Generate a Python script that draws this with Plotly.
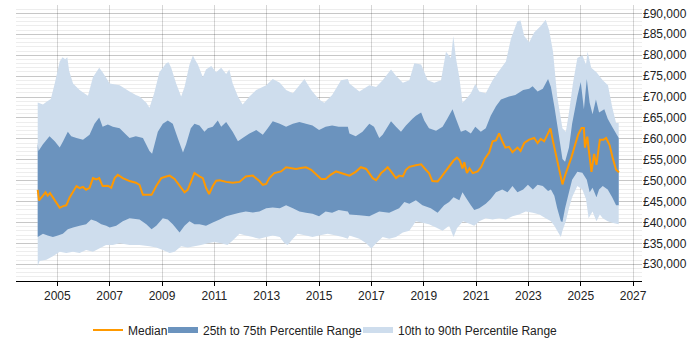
import plotly.graph_objects as go

# ---- data (decimal years, GBP) ----
p90_x = [2004.25, 2004.45, 2004.6, 2004.75, 2004.9, 2005.09, 2005.2, 2005.3, 2005.38, 2005.45, 2005.6, 2005.85,
         2006.0, 2006.17, 2006.36, 2006.6, 2006.73, 2007.0, 2007.38, 2007.76, 2008.0, 2008.14, 2008.4, 2008.52,
         2008.7, 2008.9, 2009.16, 2009.25, 2009.35, 2009.54, 2009.73, 2009.86, 2010.05, 2010.18, 2010.25, 2010.37,
         2010.56, 2010.68, 2010.88, 2011.07, 2011.26, 2011.45, 2011.57, 2011.7, 2011.9, 2012.08, 2012.34, 2012.6,
         2012.98, 2013.23, 2013.5, 2013.74, 2014.0, 2014.25, 2014.44, 2014.7, 2015.0, 2015.2, 2015.5, 2015.84,
         2016.1, 2016.16, 2016.54, 2016.92, 2017.18, 2017.43, 2017.75, 2017.94, 2018.2, 2018.45, 2018.64, 2018.9,
         2019.15, 2019.4, 2019.66, 2019.85, 2020.04, 2020.13, 2020.23, 2020.36, 2020.48, 2020.6, 2020.8, 2020.97,
         2021.12, 2021.37, 2021.63, 2021.88, 2022.14, 2022.33, 2022.58, 2022.7, 2022.84, 2023.03, 2023.22, 2023.47,
         2023.66, 2023.79, 2023.94, 2024.1, 2024.3, 2024.43, 2024.55, 2024.7, 2024.87, 2025.06, 2025.2, 2025.26,
         2025.4, 2025.6, 2025.84, 2026.04, 2026.2, 2026.35, 2026.45]
p90_y = [68700, 68200, 68900, 69500, 73200, 78500, 79500, 79000, 79500, 76300, 73200, 71700,
         71000, 70300, 74700, 77000, 75900, 73200, 72800, 71300, 70500, 70100, 68600, 67400,
         70900, 75900, 78100, 78300, 77000, 73200, 70100, 72400, 77800, 79900, 79000, 77800,
         74700, 76600, 77400, 75900, 77000, 75500, 76600, 73200, 70100, 68200, 70100, 71700,
         72800, 74300, 73400, 71700, 70900, 72800, 74300, 71700, 69400, 68600, 70500, 74000,
         74300, 73200, 71300, 72800, 72400, 74000, 76600, 75100, 73400, 74000, 78100, 77800,
         74000, 73400, 74000, 80800, 79300, 84600, 79300, 74700, 68600, 69400, 70900, 73100,
         71300, 70900, 74000, 76300, 78500, 83900, 88100, 88300, 84600, 83100, 85400, 87000,
         88500, 86000, 80800, 70100, 62500, 61700, 66300, 73200, 79300, 80000, 77800, 80800,
         77000, 75900, 74000, 72800, 67600, 63800, 63800]

p75_x = [2004.25, 2004.28, 2004.45, 2004.7, 2004.9, 2005.09, 2005.22, 2005.4, 2005.53, 2005.73, 2005.98, 2006.23,
         2006.42, 2006.6, 2006.73, 2006.93, 2007.12, 2007.38, 2007.63, 2007.76, 2008.0, 2008.27, 2008.52, 2008.62,
         2008.84, 2009.03, 2009.22, 2009.41, 2009.6, 2009.8, 2009.92, 2010.1, 2010.24, 2010.43, 2010.62, 2010.75,
         2010.94, 2011.13, 2011.26, 2011.45, 2011.7, 2011.9, 2012.08, 2012.34, 2012.6, 2012.85, 2013.04, 2013.23,
         2013.5, 2013.74, 2014.0, 2014.25, 2014.5, 2014.75, 2015.0, 2015.25, 2015.5, 2015.75, 2016.1, 2016.16,
         2016.4, 2016.66, 2016.92, 2017.1, 2017.3, 2017.43, 2017.62, 2017.75, 2017.94, 2018.13, 2018.32, 2018.57,
         2018.7, 2018.9, 2019.02, 2019.2, 2019.47, 2019.72, 2019.9, 2020.1, 2020.23, 2020.42, 2020.6, 2020.8,
         2020.97, 2021.18, 2021.37, 2021.56, 2021.76, 2021.95, 2022.26, 2022.5, 2022.8, 2023.03, 2023.16, 2023.35,
         2023.55, 2023.75, 2023.86, 2023.99, 2024.16, 2024.3, 2024.4, 2024.55, 2024.67, 2024.87, 2025.0, 2025.12,
         2025.23, 2025.34, 2025.45, 2025.58, 2025.7, 2025.9, 2026.03, 2026.2, 2026.45]
p75_y = [59000, 57100, 58700, 60600, 59400, 57900, 59400, 61700, 60600, 60200, 59800, 61000,
         63600, 65100, 62900, 63400, 62900, 62500, 61000, 60200, 60600, 60200, 57100, 56400,
         61700, 63600, 64400, 63600, 60200, 56700, 58700, 62500, 63600, 63200, 61700, 62500,
         62900, 64400, 62900, 64000, 61700, 59400, 60200, 61300, 62100, 61000, 62500, 64200,
         63600, 62900, 63600, 64000, 63600, 63200, 62100, 62900, 63200, 62900, 62900, 61300,
         60600, 61700, 63600, 62900, 60200, 61000, 62900, 64200, 62900, 61700, 63200, 64800,
         65500, 66300, 64400, 62500, 61900, 62900, 64800, 67100, 64800, 61700, 62100, 61300,
         62900, 61700, 62500, 65500, 67800, 69400, 70100, 70500, 71700, 72000, 72600, 71300,
         72000, 74300, 72400, 67800, 61000, 55200, 54500, 57900, 63600, 70100, 73600, 67100,
         74300, 68600, 65900, 69400, 66300, 67100, 64800, 62900, 60200]

p25_x = [2004.25, 2004.45, 2004.63, 2004.83, 2005.02, 2005.21, 2005.4, 2005.6, 2005.85, 2006.1, 2006.29, 2006.49,
         2006.68, 2006.87, 2007.0, 2007.25, 2007.5, 2007.76, 2008.14, 2008.4, 2008.6, 2008.78, 2009.03, 2009.22,
         2009.41, 2009.67, 2009.86, 2010.05, 2010.24, 2010.43, 2010.68, 2010.94, 2011.2, 2011.45, 2011.7, 2011.96,
         2012.2, 2012.47, 2012.72, 2012.98, 2013.23, 2013.5, 2013.74, 2014.0, 2014.25, 2014.5, 2014.75, 2015.0,
         2015.25, 2015.5, 2015.75, 2016.1, 2016.16, 2016.54, 2016.92, 2017.3, 2017.68, 2018.06, 2018.26, 2018.45,
         2018.7, 2018.95, 2019.27, 2019.53, 2019.78, 2019.97, 2020.14, 2020.36, 2020.48, 2020.6, 2020.8, 2020.93,
         2021.12, 2021.37, 2021.56, 2021.76, 2022.0, 2022.2, 2022.39, 2022.58, 2022.8, 2022.98, 2023.17, 2023.35,
         2023.55, 2023.75, 2023.86, 2023.99, 2024.1, 2024.24, 2024.3, 2024.4, 2024.55, 2024.67, 2024.87, 2025.06,
         2025.23, 2025.34, 2025.45, 2025.6, 2025.7, 2025.84, 2026.03, 2026.2, 2026.35, 2026.45]
p25_y = [36500, 37300, 36900, 36500, 36900, 37300, 38400, 38800, 39200, 39600, 40700, 40300,
         39600, 39200, 38800, 39200, 40300, 41000, 40700, 39600, 38400, 39200, 41000, 40700,
         39600, 37600, 39200, 40300, 39600, 39600, 39200, 40000, 40700, 41500, 41900, 42300,
         42600, 42400, 42600, 43400, 43600, 43400, 44100, 43400, 42600, 42300, 42100, 41500,
         42600, 42300, 43000, 42600, 41900, 41700, 41500, 42600, 42300, 43400, 44900, 44500,
         45300, 44100, 43400, 42300, 44100, 44900, 46000, 45300, 47200, 46000, 44100, 43000,
         43400, 44500, 45600, 47200, 47900, 47200, 48700, 47200, 47900, 49000, 47900, 49000,
         48700, 47500, 47900, 46400, 43400, 40300, 40100, 43400, 47200, 50200, 52100, 51900,
         50200, 47200, 48300, 46000, 47900, 48700, 47900, 46000, 44100, 44100]

p10_x = [2004.25, 2004.32, 2004.58, 2004.83, 2005.09, 2005.34, 2005.6, 2005.85, 2006.1, 2006.36, 2006.6, 2006.86,
         2007.12, 2007.38, 2007.76, 2008.14, 2008.52, 2008.78, 2009.03, 2009.29, 2009.48, 2009.73, 2009.98, 2010.24,
         2010.49, 2010.75, 2011.0, 2011.26, 2011.5, 2011.7, 2011.96, 2012.2, 2012.47, 2012.72, 2012.98, 2013.23,
         2013.5, 2013.68, 2013.8, 2014.0, 2014.18, 2014.5, 2014.75, 2015.0, 2015.33, 2015.65, 2015.9, 2016.1,
         2016.16, 2016.54, 2016.8, 2017.0, 2017.18, 2017.43, 2017.68, 2017.94, 2018.2, 2018.45, 2018.7, 2018.95,
         2019.2, 2019.47, 2019.72, 2019.97, 2020.14, 2020.27, 2020.5, 2020.8, 2020.93, 2021.12, 2021.37, 2021.63,
         2021.88, 2022.14, 2022.39, 2022.64, 2022.9, 2023.17, 2023.42, 2023.66, 2023.86, 2023.99, 2024.1, 2024.24,
         2024.3, 2024.43, 2024.55, 2024.67, 2024.87, 2025.06, 2025.2, 2025.3, 2025.45, 2025.6, 2025.73, 2025.84,
         2026.03, 2026.2, 2026.45]
p10_y = [29600, 30800, 31100, 31900, 33000, 32700, 33000, 32700, 33400, 33000, 33800, 34600,
         34600, 35000, 34600, 34600, 34300, 34000, 33400, 32700, 33000, 34300, 34000, 34300,
         34600, 35000, 35300, 35000, 34600, 35700, 37300, 36900, 36500, 36100, 36500, 36900,
         36500, 35000, 34600, 36100, 37300, 36900, 36500, 36900, 37300, 36900, 36500, 36100,
         36900, 36100, 35000, 33800, 35000, 36500, 36100, 36500, 37600, 38000, 40300, 39900,
         39600, 38800, 38000, 39200, 36500, 38600, 40300, 39600, 39200, 40300, 41000, 40700,
         41000, 40700, 41500, 41900, 42600, 42300, 41900, 41000, 40300, 39200, 38000, 36500,
         38000, 40300, 43400, 46000, 48700, 47900, 45600, 41000, 42600, 40300, 41900, 41000,
         40300, 39900, 39600]

median_x = [2004.25, 2004.3, 2004.45, 2004.55, 2004.63, 2004.72, 2004.83, 2004.96, 2005.09, 2005.22, 2005.34, 2005.47,
            2005.6, 2005.73, 2005.85, 2005.98, 2006.1, 2006.23, 2006.36, 2006.49, 2006.6, 2006.73, 2006.93, 2007.06,
            2007.19, 2007.31, 2007.5, 2007.76, 2008.0, 2008.14, 2008.27, 2008.6, 2008.78, 2008.97, 2009.16, 2009.29,
            2009.48, 2009.67, 2009.86, 2009.98, 2010.1, 2010.24, 2010.43, 2010.56, 2010.68, 2010.8, 2010.94, 2011.07,
            2011.2, 2011.45, 2011.7, 2011.96, 2012.2, 2012.47, 2012.72, 2012.85, 2012.98, 2013.1, 2013.29, 2013.55,
            2013.74, 2013.93, 2014.12, 2014.3, 2014.5, 2014.7, 2014.89, 2015.08, 2015.25, 2015.44, 2015.65, 2015.9,
            2016.1, 2016.16, 2016.4, 2016.6, 2016.8, 2016.92, 2017.05, 2017.18, 2017.37, 2017.5, 2017.62, 2017.75,
            2017.94, 2018.06, 2018.2, 2018.32, 2018.45, 2018.7, 2018.9, 2019.08, 2019.2, 2019.33, 2019.53, 2019.66,
            2019.85, 2020.04, 2020.14, 2020.27, 2020.38, 2020.48, 2020.55, 2020.65, 2020.75, 2020.87, 2021.06, 2021.2,
            2021.33, 2021.5, 2021.63, 2021.76, 2021.88, 2021.99, 2022.12, 2022.26, 2022.39, 2022.58, 2022.7, 2022.84,
            2023.03, 2023.22, 2023.35, 2023.47, 2023.6, 2023.75, 2023.84, 2023.94, 2024.07, 2024.2, 2024.3, 2024.41,
            2024.54, 2024.64, 2024.77, 2024.9, 2025.03, 2025.12, 2025.16, 2025.25, 2025.31, 2025.41, 2025.51, 2025.6,
            2025.73, 2025.87, 2025.97, 2026.1, 2026.23, 2026.35, 2026.46]
median_y = [47800, 45300, 46400, 47200, 46400, 47000, 46000, 44900, 43500, 43900, 44100, 46000,
            47300, 48700, 48200, 48500, 47800, 48300, 50600, 50300, 50600, 48700, 48800, 48300,
            50600, 51400, 50600, 49900, 49500, 49000, 46600, 46600, 48700, 50600, 51000, 51200,
            50400, 48700, 47200, 47800, 49600, 51800, 51000, 50600, 48300, 46800, 48700, 50000,
            50100, 49700, 49500, 49700, 51000, 51200, 49900, 49000, 49200, 50600, 51800, 52200,
            53200, 53000, 52800, 53000, 53200, 52600, 51400, 50400, 50400, 51400, 52200, 51800,
            51400, 51200, 52100, 53200, 52800, 51800, 50600, 50100, 51800, 52500, 53200, 52200,
            50600, 51200, 51000, 52600, 53300, 53700, 53900, 52600, 51800, 49900, 49800, 50800,
            52500, 53900, 54800, 55500, 54800, 52900, 54400, 51800, 52900, 51800, 52200, 53300,
            55200, 56700, 59400, 59600, 61300, 59600, 57900, 58100, 56800, 57900, 57100, 59000,
            59800, 60200, 59000, 60000, 59400, 61300, 62500, 59400, 55500, 51800, 49100, 51400,
            53600, 55500, 58300, 61000, 62600, 62600, 57900, 60500, 57100, 52100, 56400, 53800,
            59800, 59800, 60200, 58500, 55200, 52600, 52000]

x_ticks = [2005, 2007, 2009, 2011, 2013, 2015, 2017, 2019, 2021, 2023, 2025, 2027]
y_ticks = [30000, 35000, 40000, 45000, 50000, 55000, 60000, 65000, 70000, 75000, 80000, 85000, 90000]
y_tick_labels = ["£{:,}".format(v) for v in y_ticks]

LIGHT = "rgb(206,221,237)"
DARK = "rgb(107,147,190)"
ORANGE = "rgb(255,153,0)"

fig = go.Figure()

fig.add_trace(go.Scatter(
    x=p90_x + p10_x[::-1], y=p90_y + p10_y[::-1],
    fill="toself", fillcolor=LIGHT, mode="none",
    name="10th to 90th Percentile Range", hoverinfo="skip", legend="legend3"))
fig.add_trace(go.Scatter(
    x=p75_x + p25_x[::-1], y=p75_y + p25_y[::-1],
    fill="toself", fillcolor=DARK, mode="none",
    name="25th to 75th Percentile Range", hoverinfo="skip", legend="legend2"))
fig.add_trace(go.Scatter(
    x=median_x, y=median_y, mode="lines",
    line=dict(color=ORANGE, width=2), name="Median", legend="legend"))

PLOT_L, PLOT_W = 16, 626
def lx(px):
    return (px - PLOT_L) / PLOT_W

leg_common = dict(orientation="h", y=-0.125, yanchor="top", xanchor="left",
                  font=dict(size=12, color="#222"), bgcolor="rgba(0,0,0,0)")

fig.update_layout(
    width=700, height=350,
    margin=dict(l=16, r=58, t=5, b=58),
    paper_bgcolor="white", plot_bgcolor="white",
    font=dict(family="Liberation Sans, Arial, sans-serif", size=12, color="#222"),
    showlegend=True,
    legend=dict(x=lx(88), **leg_common),
    legend2=dict(x=lx(163), **leg_common),
    legend3=dict(x=lx(358), **leg_common),
    xaxis=dict(range=[2003.42, 2027.34], tickmode="array", tickvals=x_ticks,
               ticktext=[str(t) for t in x_ticks],
               showgrid=True, gridcolor="rgba(0,0,0,0.16)", gridwidth=1,
               showline=True, linecolor="black", linewidth=1,
               ticks="outside", ticklen=4, tickcolor="black",
               zeroline=False, layer="above traces"),
    yaxis=dict(range=[26000, 92000], side="right", tickmode="array",
               tickvals=y_ticks, ticktext=y_tick_labels,
               showgrid=True, gridcolor="rgba(0,0,0,0.16)", gridwidth=1,
               minor=dict(dtick=1000, tick0=0, showgrid=True, gridcolor="rgba(0,0,0,0.07)", gridwidth=1),
               showline=False, zeroline=False, ticks="", layer="above traces"),
)

fig.write_html("out.html")
